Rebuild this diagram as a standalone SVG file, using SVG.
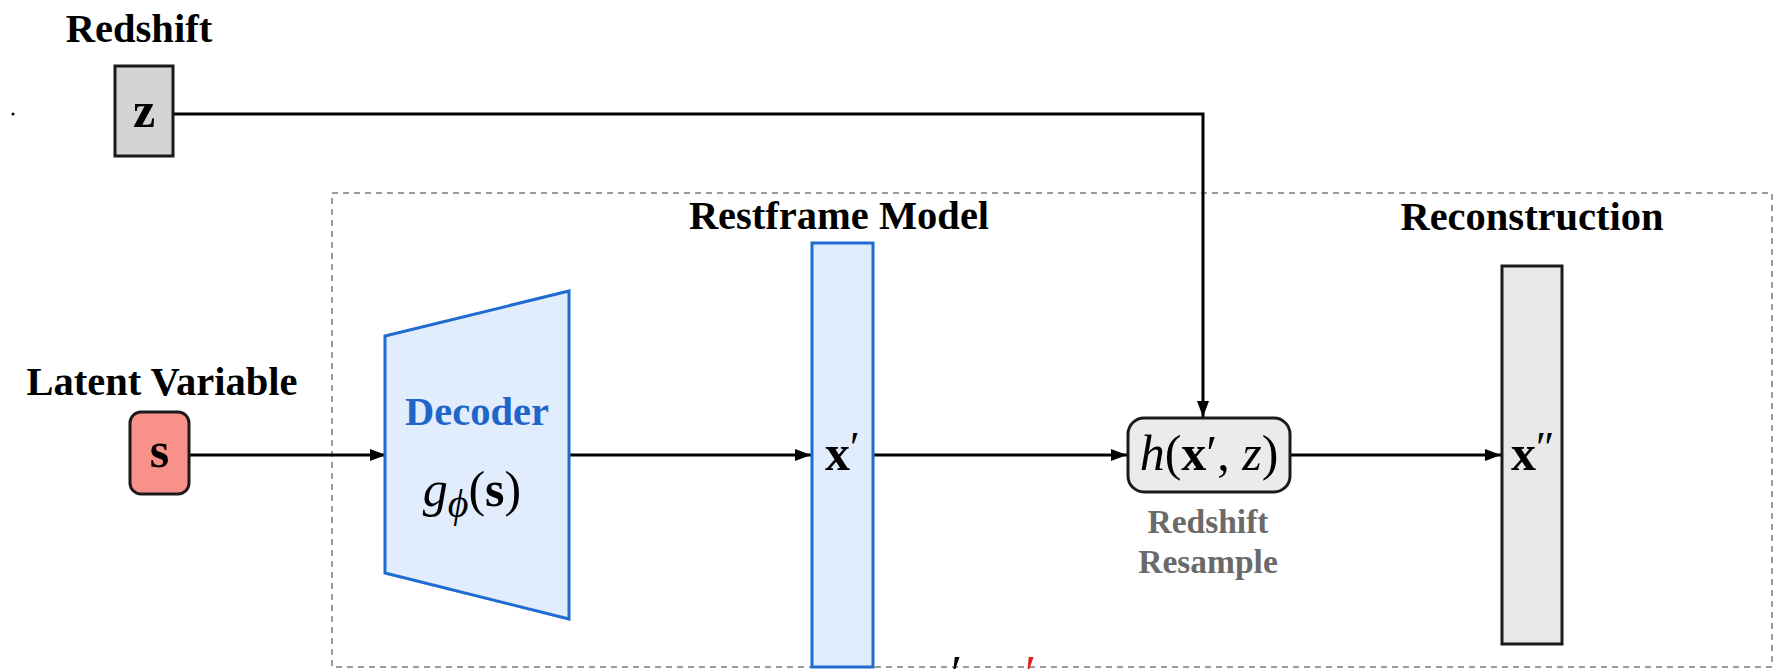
<svg xmlns="http://www.w3.org/2000/svg" width="1784" height="670" viewBox="0 0 1784 670">
  <defs>
    <marker id="arrow" viewBox="0 0 16 12" refX="16" refY="6" markerWidth="16" markerHeight="12" markerUnits="userSpaceOnUse" orient="auto">
      <path d="M0,0 L16,6 L0,12 z" fill="#000"/>
    </marker>
    <style>
      .title { font-family: "Liberation Serif", "Times New Roman", serif; font-weight: bold; font-size: 40.5px; fill: #000; }
      .sub { font-family: "Liberation Serif", "Times New Roman", serif; font-weight: bold; font-size: 33.5px; fill: #6a6a6a; }
      .math { font-family: "Liberation Serif", "Times New Roman", serif; font-size: 50px; fill: #000; }
      .bold { font-weight: bold; }
      .ital { font-style: italic; }
      .edge { fill: none; stroke: #000; stroke-width: 3; marker-end: url(#arrow); }
      .blue { fill: #e1edfc; stroke: #1f6bd0; stroke-width: 3; }
      .grey { stroke: #1a1a1a; stroke-width: 3; }
    </style>
  </defs>

  <rect width="1784" height="670" fill="#fff"/>

  <!-- dashed frame around the model -->
  <rect id="frame" x="332" y="193" width="1440" height="474" fill="none" stroke="#9a9a9a" stroke-width="2" stroke-dasharray="6 5"/>

  <!-- stray mark -->
  <circle cx="13" cy="114" r="1.5" fill="#000"/>

  <!-- section titles -->
  <text class="title" x="139" y="42" text-anchor="middle">Redshift</text>
  <text class="title" x="162" y="395" text-anchor="middle">Latent Variable</text>
  <text class="title" x="839" y="229" text-anchor="middle">Restframe Model</text>
  <text class="title" x="1532" y="230" text-anchor="middle">Reconstruction</text>

  <!-- connectors -->
  <g id="connectors">
    <path class="edge" d="M173,114 H1203 V417"/>
    <path class="edge" d="M189,455 H386"/>
    <path class="edge" d="M569,455 H811"/>
    <path class="edge" d="M874,455 H1127"/>
    <path class="edge" d="M1290,455 H1501"/>
  </g>

  <!-- redshift input -->
  <g id="node-z">
    <rect x="115" y="66" width="58" height="90" fill="#d4d4d4" class="grey"/>
    <text class="math bold" x="144" y="127" text-anchor="middle">z</text>
  </g>

  <!-- latent variable input -->
  <g id="node-s">
    <rect x="130" y="412" width="59" height="82" rx="11" fill="#f8918a" class="grey"/>
    <text class="math bold" x="159.5" y="467" text-anchor="middle" font-size="54">s</text>
  </g>

  <!-- decoder -->
  <g id="node-decoder">
    <path class="blue" d="M385,336 L569,291 L569,619 L385,573 Z"/>
    <text x="477" y="425" text-anchor="middle" font-family="Liberation Serif, Times New Roman, serif" font-weight="bold" font-size="40.5" fill="#1f66c8">Decoder</text>
    <text class="math" x="472" y="506" text-anchor="middle" font-size="60"><tspan class="ital">g</tspan><tspan class="ital" font-size="40" dy="11">ϕ</tspan><tspan dy="-11">(</tspan><tspan class="bold">s</tspan>)</text>
  </g>

  <!-- restframe spectrum -->
  <g id="node-xprime">
    <rect class="blue" x="812" y="243" width="61" height="424"/>
    <text class="math bold" x="825" y="470">x<tspan font-weight="normal" font-size="44" dy="-8">′</tspan></text>
  </g>

  <!-- redshift resample -->
  <g id="node-h">
    <rect x="1128" y="418" width="162" height="74" rx="16" fill="#ebebeb" class="grey"/>
    <text class="math" x="1209" y="470" text-anchor="middle" font-size="48"><tspan class="ital">h</tspan>(<tspan class="bold">x</tspan>′, <tspan class="ital">z</tspan>)</text>
    <text class="sub" x="1208" y="533" text-anchor="middle">Redshift</text>
    <text class="sub" x="1208" y="573" text-anchor="middle">Resample</text>
  </g>

  <!-- reconstruction -->
  <g id="node-xpp">
    <rect x="1502" y="266" width="60" height="378" fill="#e8e8e8" class="grey"/>
    <text class="math bold" x="1511" y="470">x<tspan font-weight="normal" font-size="44" dy="-8">″</tspan></text>
  </g>

  <!-- clipped marks along the bottom edge -->
  <text class="math ital" x="948" y="690" font-size="40">′</text>
  <text class="math ital" x="1022" y="690" font-size="40" style="fill:#e02020">′</text>
</svg>
